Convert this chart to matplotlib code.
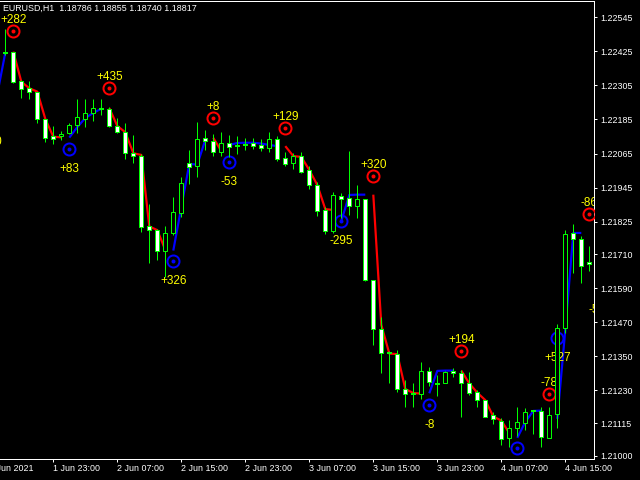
import matplotlib
matplotlib.use('Agg')
import matplotlib.pyplot as plt
from matplotlib.patches import Rectangle
from matplotlib.transforms import offset_copy

plt.rcParams['font.family'] = ['Liberation Sans', 'DejaVu Sans']

# ---- data (EURUSD H1, bar 0 = 1 Jun 17:00) ----
opens = [1.22420, 1.22422, 1.22321, 1.22296, 1.22282, 1.22186, 1.22127, 1.22125, 1.22136, 1.22164,
         1.22188, 1.22206, 1.22223, 1.22223, 1.22163, 1.22140, 1.22066, 1.22056, 1.21808, 1.21795,
         1.21722, 1.21784, 1.21857, 1.22031, 1.22020, 1.22120, 1.22109, 1.22071, 1.22101, 1.22093,
         1.22095, 1.22102, 1.22095, 1.22085, 1.22115, 1.22048, 1.22033, 1.22056, 1.22006, 1.21953,
         1.21866, 1.21791, 1.21914, 1.21907, 1.21879, 1.21904, 1.21619, 1.21446, 1.21361, 1.21358,
         1.21234, 1.21219, 1.21216, 1.21297, 1.21254, 1.21258, 1.21299, 1.21292, 1.21255, 1.21224,
         1.21195, 1.21142, 1.21124, 1.21064, 1.21096, 1.21117, 1.21159, 1.21157, 1.21064, 1.21146,
         1.21449, 1.21784, 1.21763, 1.21682]
highs = [1.22503, 1.22424, 1.22324, 1.22321, 1.22283, 1.22187, 1.22162, 1.22144, 1.22171, 1.22257,
         1.22257, 1.22257, 1.22257, 1.22230, 1.22189, 1.22171, 1.22130, 1.22065, 1.21887, 1.21799,
         1.21810, 1.21913, 1.21982, 1.22077, 1.22175, 1.22148, 1.22134, 1.22141, 1.22130, 1.22127,
         1.22118, 1.22120, 1.22116, 1.22141, 1.22127, 1.22070, 1.22066, 1.22070, 1.22021, 1.21966,
         1.21876, 1.21929, 1.21927, 1.22074, 1.21954, 1.21906, 1.21619, 1.21489, 1.21370, 1.21373,
         1.21267, 1.21257, 1.21330, 1.21314, 1.21284, 1.21297, 1.21310, 1.21302, 1.21295, 1.21232,
         1.21196, 1.21154, 1.21132, 1.21126, 1.21172, 1.21167, 1.21159, 1.21172, 1.21173, 1.21464,
         1.21795, 1.21817, 1.21774, 1.21739]
lows = [1.22413, 1.22312, 1.22262, 1.22257, 1.22174, 1.22107, 1.22099, 1.22113, 1.22132, 1.22138,
        1.22160, 1.22181, 1.22199, 1.22157, 1.22137, 1.22046, 1.22032, 1.21787, 1.21679, 1.21690,
        1.21631, 1.21778, 1.21841, 1.21957, 1.21983, 1.22077, 1.22056, 1.22056, 1.22053, 1.22063,
        1.22079, 1.22082, 1.22074, 1.22070, 1.22040, 1.22021, 1.22012, 1.21996, 1.21939, 1.21845,
        1.21781, 1.21785, 1.21838, 1.21848, 1.21837, 1.21616, 1.21390, 1.21293, 1.21257, 1.21224,
        1.21173, 1.21173, 1.21200, 1.21247, 1.21210, 1.21256, 1.21279, 1.21135, 1.21214, 1.21172,
        1.21137, 1.21112, 1.21038, 1.21032, 1.21070, 1.21091, 1.21075, 1.21030, 1.21061, 1.21096,
        1.21432, 1.21645, 1.21607, 1.21652]
closes = [1.22420, 1.22317, 1.22293, 1.22283, 1.22185, 1.22118, 1.22117, 1.22133, 1.22164, 1.22193,
          1.22207, 1.22225, 1.22223, 1.22161, 1.22140, 1.22066, 1.22055, 1.21807, 1.21794, 1.21720,
          1.21784, 1.21858, 1.21960, 1.22019, 1.22115, 1.22110, 1.22071, 1.22101, 1.22089, 1.22093,
          1.22095, 1.22092, 1.22085, 1.22115, 1.22047, 1.22028, 1.22056, 1.22001, 1.21953, 1.21861,
          1.21791, 1.21918, 1.21906, 1.21879, 1.21904, 1.21619, 1.21446, 1.21361, 1.21361, 1.21234,
          1.21216, 1.21219, 1.21297, 1.21259, 1.21254, 1.21295, 1.21290, 1.21255, 1.21222, 1.21196,
          1.21138, 1.21128, 1.21060, 1.21097, 1.21118, 1.21155, 1.21159, 1.21065, 1.21142, 1.21451,
          1.21780, 1.21765, 1.21670, 1.21675]

# trend line, starting at bar -1
line_start = -1
line_values = [1.22275, 1.22420, 1.22424, 1.22318, 1.22295, 1.22283, 1.22187, 1.22124, 1.22122, 1.22121,
               1.22158, 1.22190, 1.22208, 1.22223, 1.22225, 1.22162, 1.22140, 1.22066, 1.22060, 1.21808,
               1.21795, 1.21725, 1.21723, 1.21876, 1.22028, 1.22026, 1.22113, 1.22120, 1.22074, 1.22095,
               1.22102, 1.22103, 1.22103, 1.22100, 1.22095, 1.22091, 1.22091, 1.22056, 1.22053, 1.22007,
               1.21954, 1.21869, 1.21866, 1.21827, 1.21919, 1.21920, 1.21920, 1.21920, 1.21461, 1.21360,
               1.21358, 1.21235, 1.21221, 1.21219, 1.21220, 1.21299, 1.21300, 1.21300, 1.21300, 1.21255,
               1.21222, 1.21196, 1.21138, 1.21124, 1.21080, 1.21063, 1.21119, 1.21158, 1.21159, 1.21161,
               1.21130, 1.21443, 1.21785, 1.21785, 1.21676]
line_trend = "bbrrrrrrrbbbbbrrrrrrrrbbbbbrrbbbbbbbrrrrrrrbbbbrrrrrrrbbbbrrrrrrrbbbbrbbbbr"

high_bars = [1, 13, 26, 35, 46, 57, 68, 73]
high_prices = [1.22498, 1.22295, 1.22189, 1.22154, 1.21986, 1.21369, 1.21216, 1.21852]
high_labels = ["+282", "+435", "+8", "+129", "+320", "+194", "-78", "-86"]

low_bars = [-2, 8, 21, 28, 42, 53, 64, 69, 74]
low_prices = [1.22176, 1.22081, 1.21685, 1.22034, 1.21827, 1.21180, 1.21026, 1.21414, 1.21584]
low_labels = ["+150", "+83", "+326", "-53", "-295", "-8", "", "+527", "-52"]

ytick_vals = [1.22545, 1.22425, 1.22305, 1.22185, 1.22065, 1.21945, 1.21825, 1.21710,
              1.21590, 1.21470, 1.21350, 1.21230, 1.21115, 1.21000]
xtick_bars = [6, 14, 22, 30, 38, 46, 54, 62, 70]
xtick_labels = ["1 Jun 23:00", "2 Jun 07:00", "2 Jun 15:00", "2 Jun 23:00", "3 Jun 07:00",
                "3 Jun 15:00", "3 Jun 23:00", "4 Jun 07:00", "4 Jun 15:00"]
first_label_bar = -2
first_label = "1 Jun 2021"
title = "EURUSD,H1  1.18786 1.18855 1.18740 1.18817"

LIME = '#00FF00'
RED = '#FF0000'
BLUE = '#0000FF'
YEL = '#FFFF00'
PX = 0.72  # one pixel in points

fig = plt.figure(figsize=(6.4, 4.8), dpi=100, facecolor='black')
ax = fig.add_axes([0, 21 / 480, 594 / 640, 458 / 480])
ax.set_facecolor('black')
ax.set_xlim(-0.6625, 73.5875)
ax.set_ylim(1.209885, 1.226024)
n_bars = len(opens)

# trend line segments
cols = {'r': RED, 'b': BLUE}
n_line = len(line_values)
i = 0
while i < n_line:
    j = i
    while j + 1 < n_line and line_trend[j + 1] == line_trend[i]:
        j += 1
    if j > i:
        xs = [line_start + k for k in range(i, j + 1)]
        ys = line_values[i:j + 1]
        ax.plot(xs, ys, color=cols[line_trend[i]], lw=2.2 * PX, zorder=2,
                solid_capstyle='butt')
    i = j + 1

# swing markers (only on drawn bars) and their labels
up_tr = offset_copy(ax.transData, fig=fig, x=0, y=11 * PX, units='points')
dn_tr = offset_copy(ax.transData, fig=fig, x=0, y=-20 * PX, units='points')


def ring(b, p, color):
    if 0 <= b < n_bars:
        ax.plot(b, p, marker='o', ms=12 * PX, mfc='none', mec=color, mew=2 * PX, zorder=3)
        ax.plot(b, p, marker='o', ms=4 * PX, color=color, mew=0, zorder=3)


for b, p, t in zip(high_bars, high_prices, high_labels):
    ring(b, p, RED)
    if t:
        ax.text(b, p, t, transform=up_tr, ha='center', va='center', color=YEL,
                fontsize=8.5, zorder=3.5, clip_on=True)
for b, p, t in zip(low_bars, low_prices, low_labels):
    ring(b, p, BLUE)
    if t:
        ax.text(b, p, t, transform=dn_tr, ha='center', va='center', color=YEL,
                fontsize=8.5, zorder=3.5, clip_on=True)

# candles
bw = 0.5
for k, (o, h, l, c) in enumerate(zip(opens, highs, lows, closes)):
    ax.vlines(k, l, h, color=LIME, lw=PX, zorder=4)
    if o == c:
        ax.hlines(o, k - 0.3, k + 0.3, color=LIME, lw=2 * PX, zorder=5)
    else:
        fc = 'white' if c < o else 'black'
        ax.add_patch(Rectangle((k - bw / 2, min(o, c)), bw, abs(c - o),
                               facecolor=fc, edgecolor=LIME, lw=PX, zorder=5))

# axes styling
for s in ['top', 'right', 'bottom']:
    ax.spines[s].set_color('white')
    ax.spines[s].set_linewidth(PX)
ax.spines['left'].set_visible(False)

ax.yaxis.tick_right()
ax.set_yticks(ytick_vals)
ax.set_yticklabels([f"{v:.5f}" for v in ytick_vals])
ax.tick_params(axis='y', colors='white', direction='out', length=2.5, width=PX,
               pad=2.2, labelsize=6.4)
ax.set_xticks(xtick_bars)
ax.set_xticklabels(xtick_labels)
ax.tick_params(axis='x', colors='white', direction='out', length=2.5, width=PX,
               pad=1, labelsize=6.4)
for lbl in ax.get_xticklabels():
    lbl.set_ha('left')

ax.annotate(first_label, xy=(first_label_bar, 0), xycoords=('data', 'axes fraction'),
            xytext=(0, -3.5), textcoords='offset points', ha='left', va='top',
            color='white', fontsize=6.4, annotation_clip=False)

fig.text(3.3 / 640, 1 - 8.3 / 480, title, color='white', fontsize=6.4,
         ha='left', va='center')

fig.savefig('out.png', dpi=100, facecolor='black')
